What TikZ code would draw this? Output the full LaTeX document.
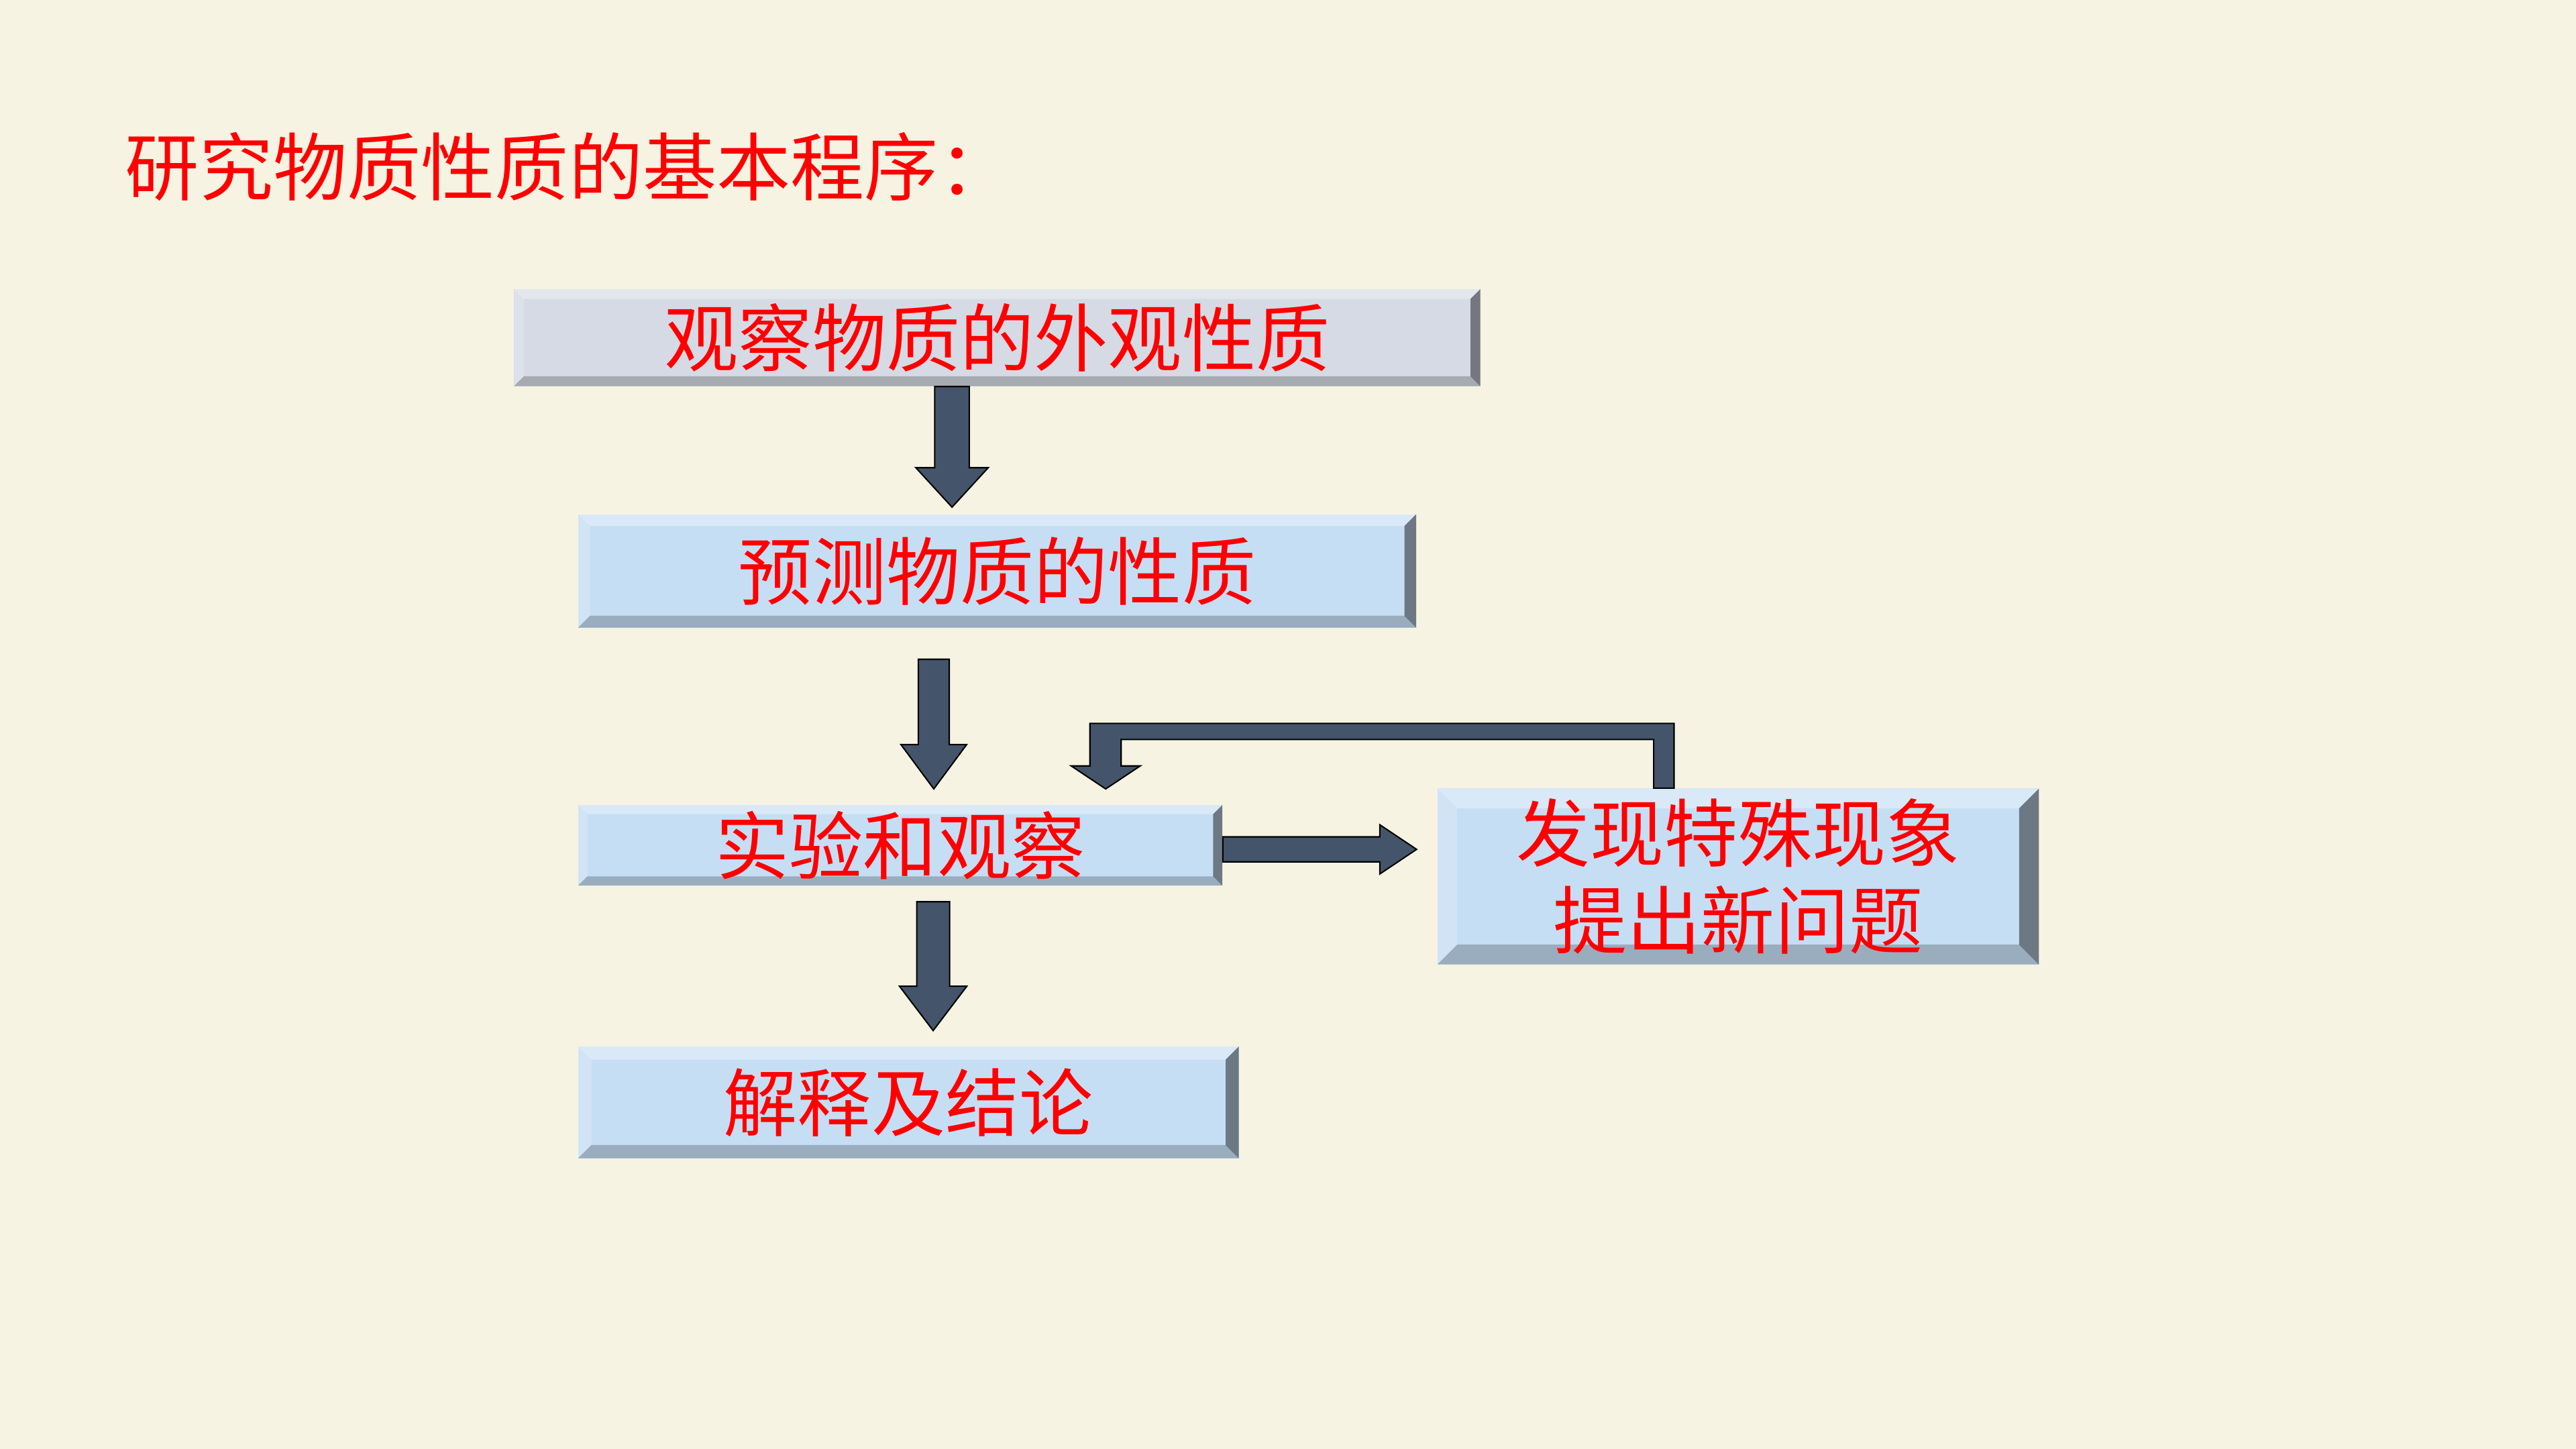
\documentclass[tikz,border=0pt]{standalone}
\usepackage{fontspec}
\usepackage{tikz}
\usepackage{color}
\usetikzlibrary{calc}
\newfontfamily\cjk{Noto Sans CJK SC}
\definecolor{paper}{HTML}{F6F3E2}
\definecolor{slate}{HTML}{44546A}
\definecolor{greyface}{HTML}{D5DAE4}
\definecolor{blueface}{HTML}{C5DEF4}

\begin{document}
\begin{tikzpicture}[x=0.025cm,y=-0.025cm,
		heading/.style={inner sep=0pt,text=red,font=\cjk\fontsize{32pt}{38pt}\selectfont},
		stage/.style 2 args={rectangle,fill=#1,inner sep=0pt,text=red,
			font=\cjk\fontsize{32pt}{37.6pt}\selectfont,
			path picture={
				\coordinate (nw) at (path picture bounding box.north west);
				\coordinate (ne) at (path picture bounding box.north east);
				\coordinate (sw) at (path picture bounding box.south west);
				\coordinate (se) at (path picture bounding box.south east);
				\fill[white,opacity=.35] (nw) -- (ne) -- ++(-#2,-#2) -- ($(nw)+(#2,-#2)$) -- cycle;
				\fill[white,opacity=.2] (nw) -- (sw) -- ++(#2,#2) -- ($(nw)+(#2,-#2)$) -- cycle;
				\fill[black,opacity=.22] (sw) -- (se) -- ++(-#2,#2) -- ($(sw)+(#2,#2)$) -- cycle;
				\fill[black,opacity=.45] (ne) -- (se) -- ++(-#2,#2) -- ($(ne)+(-#2,-#2)$) -- cycle;
			}},
		flow down/.style n args={3}{draw=black,fill=slate,line width=0.6pt,line join=miter,
			to path={let \p1=(\tikztostart),\p2=(\tikztotarget) in
				(\x1-#1,\y1) -- (\x1+#1,\y1) -- (\x1+#1,\y2+#3) -- (\x1+#2,\y2+#3)
				-- (\x1,\y2) -- (\x1-#2,\y2+#3) -- (\x1-#1,\y2+#3) -- cycle}},
		flow right/.style n args={3}{draw=black,fill=slate,line width=0.6pt,line join=miter,
			to path={let \p1=(\tikztostart),\p2=(\tikztotarget) in
				(\x1,\y1+#1) -- (\x2-#3,\y1+#1) -- (\x2-#3,\y1+#2) -- (\x2,\y1)
				-- (\x2-#3,\y1-#2) -- (\x2-#3,\y1-#1) -- (\x1,\y1-#1) -- cycle}},
		flow back/.style={draw=black,fill=slate,line width=0.6pt,line join=miter,
			to path={let \p1=(\tikztostart),\p2=(\tikztotarget) in
				(\x1-0.155cm,\y1) -- (\x1-0.155cm,\y1+0.74cm) -- (\x2+0.235cm,\y1+0.74cm)
				-- (\x2+0.235cm,\y2+0.35cm) -- (\x2+0.525cm,\y2+0.35cm) -- (\x2,\y2)
				-- (\x2-0.525cm,\y2+0.35cm) -- (\x2-0.24cm,\y2+0.35cm) -- (\x2-0.24cm,\y1+0.985cm)
				-- (\x1+0.155cm,\y1+0.985cm) -- (\x1+0.155cm,\y1) -- cycle}}]

		\fill[paper] (0,0) rectangle (1568,882);

		\node[heading,anchor=west] (title) at (76,101.5) {研究物质性质的基本程序：};

		\node[stage={greyface}{0.15cm},minimum width=14.7cm,minimum height=1.475cm] (observe) at (607,205.5) {观察物质的外观性质};
		\node[stage={blueface}{0.18cm},minimum width=12.75cm,minimum height=1.725cm] (predict) at (607,347.5) {预测物质的性质};
		\node[stage={blueface}{0.14cm},minimum width=9.8cm,minimum height=1.225cm] (test) at (548,514.5) {实验和观察};
		\node[stage={blueface}{0.3cm},minimum width=9.15cm,minimum height=2.675cm,align=center] (anomaly) at (1058,533.5) {发现特殊现象\\提出新问题};
		\node[stage={blueface}{0.2cm},minimum width=10.05cm,minimum height=1.7cm] (conclude) at (553,671) {解释及结论};

		\draw[flow down={0.2625cm}{0.55cm}{0.6cm}] ([xshift=-0.6875cm]observe.south) to ([yshift=0.1cm]predict.north);
		\draw[flow down={0.235cm}{0.5cm}{0.675cm}] ([xshift=-0.965cm,yshift=-0.475cm]predict.south) to ([yshift=0.2375cm]test.north);
		\draw[flow down={0.25cm}{0.5125cm}{0.675cm}] ([xshift=0.5cm,yshift=-0.24cm]test.south) to ([yshift=0.235cm]conclude.north);
		\draw[flow right={0.19cm}{0.375cm}{0.56cm}] ([yshift=-0.0625cm]test.east) to ([xshift=-0.31cm]anomaly.west);
		%% back to the experiment
		\draw[flow back] ([xshift=-1.13cm]anomaly.north) to ([xshift=3.125cm,yshift=0.2375cm]test.north);
\end{tikzpicture}
\end{document}
